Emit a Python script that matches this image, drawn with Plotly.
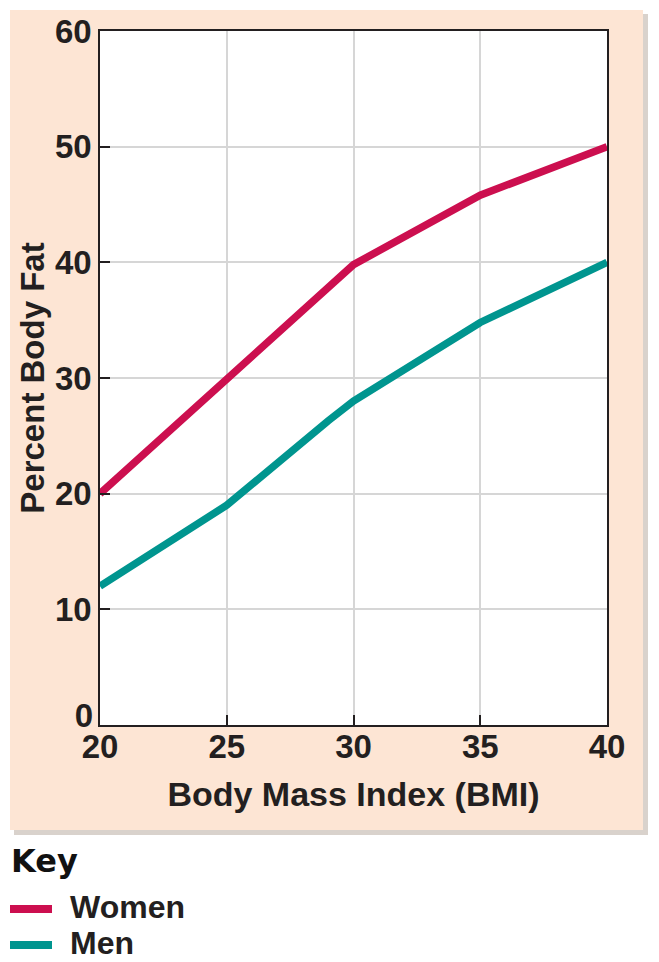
import plotly.graph_objects as go

# Data
women_bmi = [20, 25, 30, 35, 40]
women_fat = [20, 30, 39.8, 45.8, 50]
men_bmi = [20, 25, 29, 30, 35, 40]
men_fat = [12, 19, 26.3, 28, 34.8, 40]
x_ticks = [20, 25, 30, 35, 40]
y_ticks = [0, 10, 20, 30, 40, 50, 60]
series_names = ["Women", "Men"]

WOMEN_COLOR = "#cc0f4f"
MEN_COLOR = "#00958f"
PEACH = "#fde5d4"
INK = "#231f20"
FONT = "Liberation Sans, Arial, sans-serif"

fig = go.Figure()
fig.add_trace(go.Scatter(x=women_bmi, y=women_fat, mode="lines", name=series_names[0],
                         line=dict(color=WOMEN_COLOR, width=7.5), showlegend=False))
fig.add_trace(go.Scatter(x=men_bmi, y=men_fat, mode="lines", name=series_names[1],
                         line=dict(color=MEN_COLOR, width=7.5), showlegend=False))

# The page adds an 8px body margin; lay the figure out in page pixels.
OFF = 8
W, H = 659 - OFF, 962 - OFF
PL, PR, PT, PB = 100, 607, 31, 725  # plot area in page pixels
L, T = PL - OFF, PT - OFF
R, B = W - (PR - OFF), H - (PB - OFF)
pw, ph = PR - PL, PB - PT

def px_x(p):
    return (p - PL) / pw

def px_y(p):
    return (PB - p) / ph

shapes = [
    # shadow
    dict(type="rect", xref="paper", yref="paper", layer="below",
         x0=px_x(14), x1=px_x(648), y0=px_y(835), y1=px_y(14),
         fillcolor="#d9d2cc", line=dict(width=0)),
    # peach panel
    dict(type="rect", xref="paper", yref="paper", layer="below",
         x0=px_x(10), x1=px_x(643), y0=px_y(830), y1=px_y(10),
         fillcolor=PEACH, line=dict(width=0)),
    # white plot area
    dict(type="rect", xref="paper", yref="paper", layer="below",
         x0=0, x1=1, y0=0, y1=1, fillcolor="white", line=dict(width=0)),
]

annotations = [
    dict(text="Key", xref="paper", yref="paper", x=px_x(9), y=px_y(861),
         xanchor="left", yanchor="middle", showarrow=False,
         font=dict(family="DejaVu Sans, sans-serif", size=32, color="#111", weight="bold")),
]
for name, color, ypx in [(series_names[0], WOMEN_COLOR, 907), (series_names[1], MEN_COLOR, 943)]:
    shapes.append(dict(type="line", xref="paper", yref="paper",
                       x0=px_x(10), x1=px_x(52), y0=px_y(ypx + 2), y1=px_y(ypx + 2),
                       line=dict(color=color, width=8)))
    annotations.append(dict(text=name, xref="paper", yref="paper", x=px_x(68), y=px_y(ypx),
                            xanchor="left", yanchor="middle", showarrow=False,
                            font=dict(family=FONT, size=32, color=INK, weight="bold")))

axis_common = dict(
    showline=True, mirror=True, linecolor=INK, linewidth=1.5,
    ticks="inside", ticklen=10, tickwidth=1.5, tickcolor=INK,
    showgrid=True, gridcolor="#d6d6d6", gridwidth=1.5,
    zeroline=False, automargin=False,
    tickfont=dict(family=FONT, size=33, color=INK, weight="bold"),
)

# secondary y axis only to lift the "0" label clear of the x labels
fig.add_trace(go.Scatter(x=[x_ticks[0]], y=[y_ticks[0]], yaxis="y2", mode="none",
                         showlegend=False, hoverinfo="skip"))

fig.update_layout(
    width=W, height=H,
    margin=dict(l=L, r=R, t=T, b=B),
    paper_bgcolor="white",
    plot_bgcolor="rgba(0,0,0,0)",
    shapes=shapes,
    annotations=annotations,
    xaxis=dict(range=[20, 40], tickvals=x_ticks, **axis_common,
               ticklabelstandoff=-8,
               title=dict(text="Body Mass Index (BMI)", standoff=18,
                          font=dict(family=FONT, size=34, color=INK, weight="bold"))),
    yaxis=dict(range=[0, 60], tickvals=y_ticks[1:], **axis_common,
               ticklabelstandoff=0,
               title=dict(text="Percent Body Fat", standoff=0,
                          font=dict(family=FONT, size=33, color=INK, weight="bold"))),
    yaxis2=dict(range=[0, 60], tickvals=y_ticks[:1], overlaying="y", side="left",
                showgrid=False, showline=False, zeroline=False, ticks="",
                ticklabelshift=-10, ticklabelstandoff=6,
                tickfont=dict(family=FONT, size=33, color=INK, weight="bold")),
    showlegend=False,
)

fig.write_html("out.html")
